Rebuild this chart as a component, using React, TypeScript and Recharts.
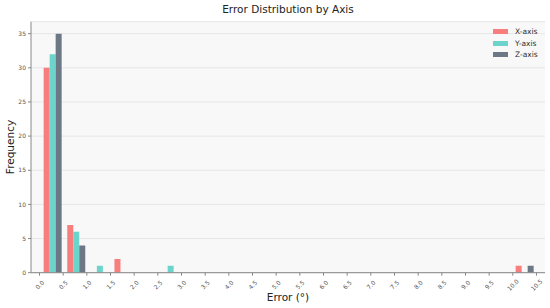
import React from "react";
import {
  BarChart,
  Bar,
  XAxis,
  YAxis,
  CartesianGrid,
} from "recharts";

// 21 histogram bins, 0.5° wide
const bins = [
  "0.0", "0.5", "1.0", "1.5", "2.0", "2.5", "3.0", "3.5", "4.0", "4.5", "5.0",
  "5.5", "6.0", "6.5", "7.0", "7.5", "8.0", "8.5", "9.0", "9.5", "10.0",
];
const xAxisCounts = [30, 7, 0, 2, 0, 0, 0, 0, 0, 0, 0, 0, 0, 0, 0, 0, 0, 0, 0, 0, 1];
const yAxisCounts = [32, 6, 1, 0, 0, 1, 0, 0, 0, 0, 0, 0, 0, 0, 0, 0, 0, 0, 0, 0, 0];
const zAxisCounts = [35, 4, 0, 0, 0, 0, 0, 0, 0, 0, 0, 0, 0, 0, 0, 0, 0, 0, 0, 0, 1];

const xTicks = [
  0, 0.5, 1, 1.5, 2, 2.5, 3, 3.5, 4, 4.5, 5, 5.5, 6, 6.5, 7, 7.5, 8, 8.5, 9,
  9.5, 10, 10.5,
];
const yTicks = [0, 5, 10, 15, 20, 25, 30, 35];

const SERIES = [
  { key: "X-axis", color: "#f87d7d" },
  { key: "Y-axis", color: "#6dd4cc" },
  { key: "Z-axis", color: "#6c7886" },
];

const data = bins.map((b, i) => ({
  bin: b,
  start: Number(b),
  "X-axis": xAxisCounts[i],
  "Y-axis": yAxisCounts[i],
  "Z-axis": zAxisCounts[i],
}));

const FONT = "'DejaVu Sans', sans-serif";

function RotatedTick(props: any) {
  const { x, y, payload } = props;
  const cy = y + 7;
  return (
    <text
      x={x}
      y={cy}
      transform={`rotate(-45, ${x}, ${cy})`}
      textAnchor="middle"
      dominantBaseline="central"
      fontSize={6}
      fill="#555"
      fontFamily={FONT}
    >
      {Number(payload.value).toFixed(1)}
    </text>
  );
}

export default function App() {
  return (
    <div
      style={{
        position: "absolute",
        left: 0,
        top: 0,
        width: 550,
        height: 308,
        background: "#fff",
        fontFamily: FONT,
      }}
    >
      <BarChart
        width={550}
        height={308}
        data={data}
        margin={{ top: 21.7, right: 5, bottom: 5.3, left: 6 }}
        barGap={0}
        barCategoryGap="10%"
      >
        <CartesianGrid
          vertical={false}
          stroke="#e6e6e6"
          fill="#f8f8f8"
          xAxisId="ticks"
        />
        <XAxis
          xAxisId="ticks"
          dataKey="start"
          type="number"
          domain={[-0.18, 10.68]}
          allowDataOverflow
          ticks={xTicks}
          interval={0}
          height={30}
          tick={<RotatedTick />}
          tickSize={3}
          stroke="#888"
        />
        <XAxis
          xAxisId="bins"
          dataKey="bin"
          hide
          height={0}
          padding={{ left: 10.3, right: 8.1 }}
        />
        <YAxis
          domain={[0, 36.75]}
          allowDataOverflow
          ticks={yTicks}
          width={25}
          tickSize={3}
          tick={{ fontSize: 6, fill: "#555", fontFamily: FONT }}
          stroke="#888"
        />
        {SERIES.map((s) => (
          <Bar
            key={s.key}
            xAxisId="bins"
            dataKey={s.key}
            fill={s.color}
            isAnimationActive={false}
          />
        ))}
      </BarChart>

      <div
        style={{
          position: "absolute",
          left: 0,
          width: 576,
          top: 3,
          textAlign: "center",
          fontSize: 10.5,
          color: "#222",
        }}
      >
        Error Distribution by Axis
      </div>
      <div
        style={{
          position: "absolute",
          left: 0,
          width: 576,
          top: 291,
          textAlign: "center",
          fontSize: 10.5,
          color: "#222",
        }}
      >
        Error (°)
      </div>
      <div
        style={{
          position: "absolute",
          left: 10,
          top: 147,
          transform: "translate(-50%, -50%) rotate(-90deg)",
          fontSize: 10.5,
          color: "#222",
          whiteSpace: "nowrap",
        }}
      >
        Frequency
      </div>

      <div style={{ position: "absolute", left: 493, top: 26 }}>
        {SERIES.map((s) => (
          <div
            key={s.key}
            style={{
              display: "flex",
              alignItems: "center",
              height: 11.5,
              fontSize: 7.5,
              color: "#333",
            }}
          >
            <span
              style={{
                display: "inline-block",
                width: 15,
                height: 5,
                background: s.color,
                marginRight: 7,
              }}
            />
            {s.key}
          </div>
        ))}
      </div>
    </div>
  );
}
